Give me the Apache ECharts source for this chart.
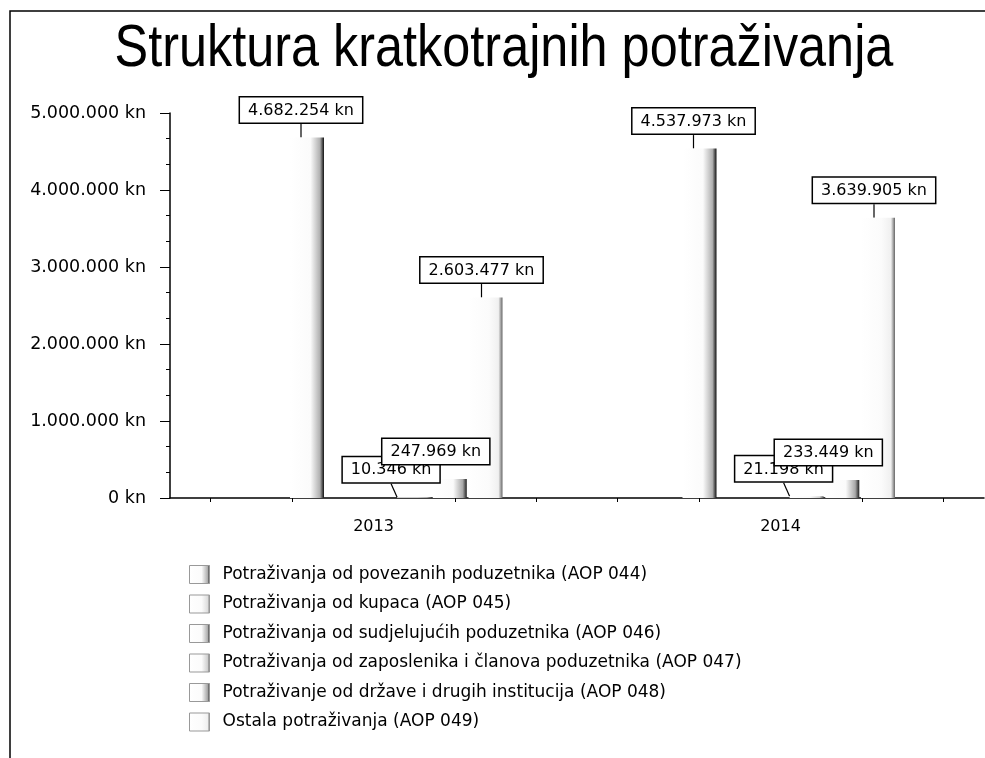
<!DOCTYPE html>
<html>
<head>
<meta charset="utf-8">
<script src="https://cdn.jsdelivr.net/npm/echarts@6/dist/echarts.min.js"></script>
<style>
html,body{margin:0;padding:0;background:#fff;}
#chart{width:985px;height:758px;}
</style>
</head>
<body>
<div id="chart"></div>
<script>
var titleText = 'Struktura kratkotrajnih potraživanja';
var categories = ['2013', '2014'];
var seriesNames = [
  'Potraživanja od povezanih poduzetnika (AOP 044)',
  'Potraživanja od kupaca (AOP 045)',
  'Potraživanja od sudjelujućih poduzetnika (AOP 046)',
  'Potraživanja od zaposlenika i članova poduzetnika (AOP 047)',
  'Potraživanje od države i drugih institucija (AOP 048)',
  'Ostala potraživanja (AOP 049)'
];
var aop044 = [4682254, 4537973];
var aop045 = ['-', '-'];
var aop046 = ['-', '-'];
var aop047 = [10346, 21198];
var aop048 = [247969, 233449];
var aop049 = [2603477, 3639905];

function fmt(v) {
  return String(Math.round(v)).replace(/\B(?=(\d{3})+(?!\d))/g, '.') + ' kn';
}
function grad(edge, mid) {
  return new echarts.graphic.LinearGradient(0, 0, 1, 0, [
    {offset: 0, color: '#ffffff'},
    {offset: 0.6, color: '#fbfbfb'},
    {offset: 0.88, color: mid},
    {offset: 1, color: edge}
  ]);
}
var styles = [
  {c: grad('#111111', '#b0b0b0'), dx: -6},
  {c: grad('#777777', '#dedede'), dx: 0},
  {c: grad('#111111', '#b0b0b0'), dx: 0},
  {c: grad('#555555', '#d0d0d0'), dx: -23},
  {c: grad('#222222', '#a8a8a8'), dx: -14},
  {c: grad('#666666', '#f0f0f0'), dx: -4}
];
var dataSets = [aop044, aop045, aop046, aop047, aop048, aop049];
var FONT = 'DejaVu Sans';

var series = dataSets.map(function (d, i) {
  return {
    name: seriesNames[i],
    type: 'bar',
    xAxisIndex: 2,
    yAxisIndex: 1,
    data: d,
    barWidth: 34,
    barGap: '5%',
    itemStyle: {color: styles[i].c},
    label: {
      show: true,
      position: 'top',
      distance: 0,
      formatter: function (p) { return fmt(p.value); },
      fontFamily: FONT,
      fontSize: 16,
      color: '#000',
      backgroundColor: '#fff',
      borderColor: '#000',
      borderWidth: 1.5,
      padding: [5, 8, 4, 8]
    },
    labelLayout: {dx: styles[i].dx, dy: -15},
    labelLine: {show: true, lineStyle: {color: '#000', width: 1.2}},
    z: 2
  };
});

var option = {
  backgroundColor: '#fff',
  animation: false,
  legend: {
    data: seriesNames,
    orient: 'vertical',
    left: 184,
    top: 560,
    itemWidth: 20,
    itemHeight: 18,
    itemGap: 10.5,
    icon: 'rect',
    itemStyle: {borderColor: '#999', borderWidth: 1},
    textStyle: {fontFamily: FONT, fontSize: 17, color: '#000', padding: [0, 0, 0, 8]}
  },
  grid: [
    {left: 170, right: 1, top: 113, bottom: 260, containLabel: false},
    {left: 200, width: 812, top: 113, bottom: 260, containLabel: false}
  ],
  xAxis: [
    {
      type: 'category', gridIndex: 0, data: categories, position: 'bottom',
      axisLine: {lineStyle: {color: '#000', width: 1.5}},
      axisTick: {alignWithLabel: true, length: 7, lineStyle: {color: '#000', width: 1.5}},
      axisLabel: {fontFamily: FONT, fontSize: 16, color: '#000', margin: 21}
    },
    {
      type: 'value', gridIndex: 0, min: 0, max: 2, position: 'bottom',
      axisLine: {show: false},
      axisLabel: {show: false},
      splitLine: {show: false},
      axisTick: {show: true, length: 4, lineStyle: {color: '#000'},
        customValues: [0.1, 0.3, 0.7, 0.9, 1.1, 1.3, 1.7, 1.9]}
    },
    {
      type: 'category', gridIndex: 1, data: categories,
      show: false
    }
  ],
  yAxis: [
    {
      type: 'value', gridIndex: 0, min: 0, max: 5000000, interval: 1000000,
      axisLine: {show: true, lineStyle: {color: '#000', width: 1.5}},
      axisTick: {show: true, length: 10, lineStyle: {color: '#000'}},
      minorTick: {show: true, splitNumber: 3, length: 4, lineStyle: {color: '#000'}},
      splitLine: {show: false},
      axisLabel: {fontFamily: FONT, fontSize: 17.5, color: '#000', margin: 24,
        formatter: function (v) { return fmt(v); }}
    },
    {
      type: 'value', gridIndex: 1, min: 0, max: 5000000, interval: 1000000,
      show: false
    }
  ],
  graphic: [
    {type: 'rect', shape: {x: 10, y: 11, width: 990, height: 760},
      style: {fill: 'none', stroke: '#000', lineWidth: 1.5}, silent: true, z: 0},
    {type: 'text', x: 504, y: 49, scaleX: 0.84, silent: true, z: 10,
      style: {text: titleText, font: '60px "Liberation Sans", Arial, sans-serif',
        fill: '#000', textAlign: 'center', textVerticalAlign: 'middle'}}
  ],
  series: series
};

var chart = echarts.init(document.getElementById('chart'));
chart.setOption(option);
</script>
</body>
</html>
